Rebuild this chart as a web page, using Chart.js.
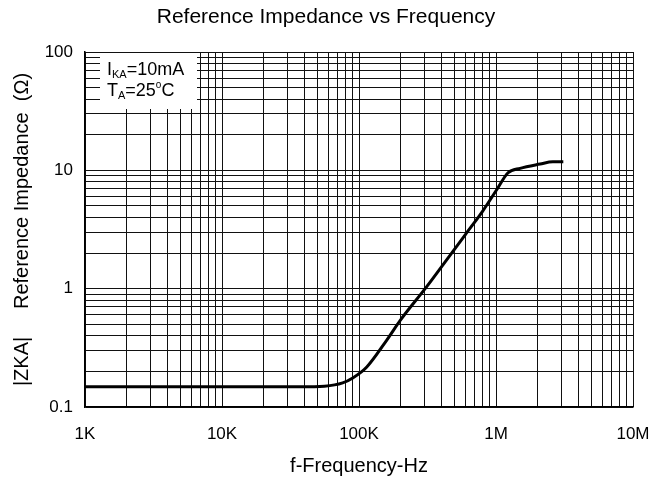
<!DOCTYPE html>
<html lang="en">
<head>
    <meta charset="UTF-8" />
    <title>Reference Impedance vs Frequency</title>
    <script src="https://cdn.jsdelivr.net/npm/chart.js"></script>
    <style>
        body { margin: 0; background: #fff; }
        #wrap { width: 652px; height: 478px; }
    </style>
</head>
<body>
    <div id="wrap"><canvas id="zkaChart" width="652" height="478"></canvas></div>

    <script>
        // curve (Hz, ohm)
        const freqHz = [1e3, 1e4, 3.7e4, 5.6e4, 7.6e4, 9e4, 1.14e5, 1.6e5, 2e5, 3.1e5, 4.1e5, 6.1e5, 8e5, 1.02e6, 1.22e6, 1.5e6, 2.1e6, 2.6e6, 3.1e6];
        const zkaOhm = [0.148, 0.148, 0.148, 0.15, 0.16, 0.176, 0.218, 0.37, 0.54, 1.03, 1.59, 2.96, 4.53, 6.95, 9.5, 10.4, 11.3, 11.8, 11.8];

        const xDecades = [1e3, 1e4, 1e5, 1e6, 1e7];
        const xDecadeLabels = ['1K', '10K', '100K', '1M', '10M'];
        const yDecades = [0.1, 1, 10, 100];
        const yDecadeLabels = ['0.1', '1', '10', '100'];

        const FONT = "'Liberation Sans', Arial, sans-serif";

        // 1..9 x 10^n grid between the first and last decade
        function logGrid(decades) {
            const out = [];
            for (let i = 0; i < decades.length - 1; i++) {
                for (let k = 1; k < 10; k++) out.push(decades[i] * k);
            }
            out.push(decades[decades.length - 1]);
            return out;
        }

        function decadeLabel(value, decades, labels) {
            const i = decades.findIndex(d => Math.abs(d - value) / d < 1e-6);
            return i >= 0 ? labels[i] : '';
        }

        // white note box in the upper-left corner
        const noteBox = {
            id: 'noteBox',
            afterDatasetsDraw(chart) {
                const ctx = chart.ctx;
                const top = chart.chartArea.top;
                ctx.save();
                ctx.fillStyle = '#fff';
                ctx.fillRect(100, top + 1, 97, 56);
                ctx.fillStyle = '#000';
                ctx.textBaseline = 'alphabetic';
                let x = 107;
                const put = (txt, size, dy) => {
                    ctx.font = size + 'px ' + FONT;
                    ctx.fillText(txt, x, dy);
                    x += ctx.measureText(txt).width;
                };
                put('I', 18, 75);
                put('KA', 11, 78);
                put('=10mA', 18, 75);
                x = 107;
                put('T', 18, 96);
                put('A', 11, 99);
                put('=25', 18, 96);
                put('o', 10, 88);
                put('C', 18, 96);
                ctx.restore();
            }
        };

        new Chart(document.getElementById('zkaChart'), {
            type: 'scatter',
            data: {
                datasets: [{
                    data: freqHz.map((f, i) => ({ x: f, y: zkaOhm[i] })),
                    showLine: true,
                    borderColor: '#000',
                    borderWidth: 3,
                    pointRadius: 0,
                    cubicInterpolationMode: 'monotone'
                }]
            },
            options: {
                responsive: false,
                animation: false,
                layout: { padding: 0 },
                plugins: {
                    legend: { display: false },
                    tooltip: { enabled: false },
                    title: {
                        display: true,
                        text: 'Reference Impedance vs Frequency',
                        color: '#000',
                        font: { family: FONT, size: 21, weight: 'normal', lineHeight: 1.2 },
                        padding: { top: 4.4, bottom: 22.4 }
                    }
                },
                scales: {
                    x: {
                        type: 'logarithmic',
                        min: 1e3,
                        max: 1e7,
                        afterBuildTicks: s => { s.ticks = logGrid(xDecades).map(v => ({ value: v })); },
                        afterFit: s => { s.height = 71; s.paddingLeft = 0; s.paddingRight = 19; },
                        grid: { color: '#111', lineWidth: 1, drawTicks: false },
                        border: { color: '#000', width: 1.5 },
                        ticks: {
                            autoSkip: false,
                            maxRotation: 0,
                            padding: 17,
                            color: '#000',
                            font: { family: FONT, size: 17 },
                            callback: v => decadeLabel(v, xDecades, xDecadeLabels)
                        },
                        title: {
                            display: true,
                            text: 'f-Frequency-Hz',
                            color: '#000',
                            font: { family: FONT, size: 20, lineHeight: 1.2 },
                            padding: { top: 0, bottom: 0 }
                        }
                    },
                    y: {
                        type: 'logarithmic',
                        min: 0.1,
                        max: 100,
                        afterBuildTicks: s => { s.ticks = logGrid(yDecades).map(v => ({ value: v })); },
                        afterFit: s => { s.width = 85; },
                        grid: { color: '#111', lineWidth: 1, drawTicks: false },
                        border: { color: '#000', width: 1.5 },
                        ticks: {
                            autoSkip: false,
                            padding: 12,
                            color: '#000',
                            font: { family: FONT, size: 17 },
                            callback: v => decadeLabel(v, yDecades, yDecadeLabels)
                        },
                        title: {
                            display: true,
                            text: '|ZKA|     Reference Impedance  (\u03A9)',
                            color: '#000',
                            font: { family: FONT, size: 20, lineHeight: 1.2 },
                            padding: { top: 10, bottom: 0 }
                        }
                    }
                }
            },
            plugins: [noteBox]
        });
    </script>
</body>
</html>
